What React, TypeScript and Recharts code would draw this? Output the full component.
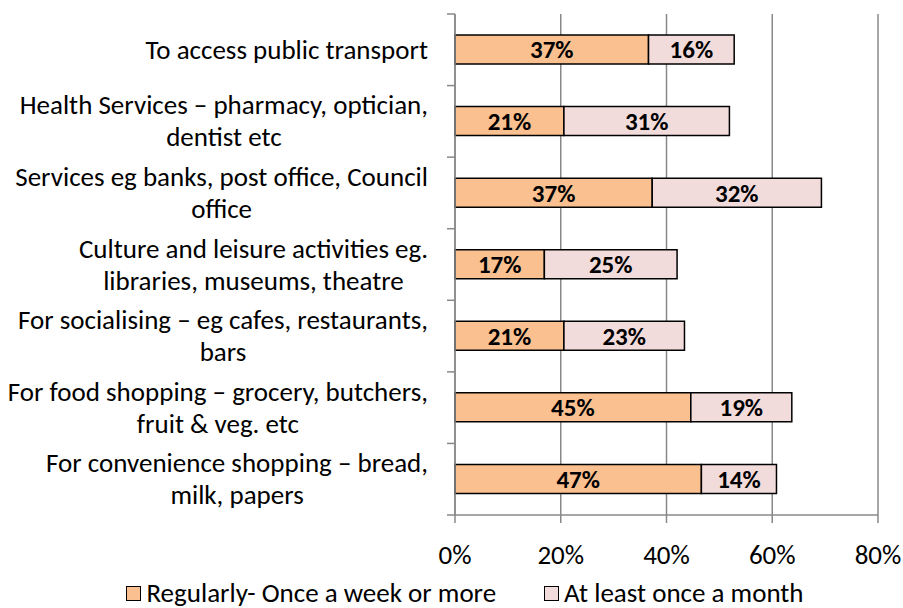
import React from "react";
import { BarChart, Bar, XAxis, YAxis, CartesianGrid, LabelList, Legend } from "recharts";

const categories = [
  ["To access public transport"],
  ["Health Services – pharmacy, optician,", "dentist etc"],
  ["Services eg banks, post office, Council", "office"],
  ["Culture and leisure activities eg.", "libraries, museums, theatre"],
  ["For socialising – eg cafes, restaurants,", "bars"],
  ["For food shopping – grocery, butchers,", "fruit & veg. etc"],
  ["For convenience shopping – bread,", "milk, papers"],
];
const regularly = [36.6, 20.6, 37.3, 16.9, 20.6, 44.6, 46.6];
const monthly = [16.2, 31.3, 32.0, 25.1, 22.8, 19.1, 14.2];
const xTicks = [0, 20, 40, 60, 80];
const seriesNames = ["Regularly- Once a week or more", "At least once a month"];
const colors = ["#FAC090", "#F2DCDB"];

const data = categories.map((c, i) => ({
  name: c.join(" "),
  lines: c,
  regularly: regularly[i],
  monthly: monthly[i],
}));

const FONT = "Carlito, Lato, 'Open Sans', sans-serif";
const FS = 27;
const PLOT_H = 501;

const YTick = (props: any) => {
  const { x, y, payload, index } = props;
  const half = payload && payload.offset ? payload.offset : PLOT_H / 14;
  const lines: string[] = data[index] ? data[index].lines : [String(payload.value)];
  const axisX = x + 8;
  return (
    <g>
      <line x1={axisX - 8} x2={axisX} y1={y - half} y2={y - half} stroke="#888" strokeWidth={1.5} />
      {index === data.length - 1 && (
        <line x1={axisX - 8} x2={axisX} y1={y + half} y2={y + half} stroke="#888" strokeWidth={1.5} />
      )}
      <foreignObject x={0} y={y - 40} width={axisX - 27} height={80}>
        <div
          style={{
            width: "100%",
            height: "100%",
            display: "flex",
            justifyContent: "flex-end",
            alignItems: "center",
          }}
        >
          <div
            style={{
              textAlign: "center",
              fontFamily: FONT,
              fontSize: FS,
              lineHeight: "32px",
              color: "#000",
              whiteSpace: "nowrap",
            }}
          >
            {lines.map((l, i) => (
              <div key={i}>{l}</div>
            ))}
          </div>
        </div>
      </foreignObject>
    </g>
  );
};

const LegendContent = () => (
  <div
    style={{
      display: "flex",
      justifyContent: "center",
      alignItems: "center",
      gap: 48,
      fontFamily: FONT,
      fontSize: FS,
      lineHeight: "28px",
      color: "#000",
      height: 30,
      paddingLeft: 52,
    }}
  >
    {seriesNames.map((n, i) => (
      <div key={n} style={{ display: "flex", alignItems: "center" }}>
        <span
          style={{
            display: "inline-block",
            width: 13,
            height: 13,
            background: colors[i],
            border: "1px solid #000",
            marginRight: 5,
          }}
        />
        <span>{n}</span>
      </div>
    ))}
  </div>
);

const fmt = (v: any) => `${Math.round(Number(v))}%`;

export default function App() {
  return (
    <div style={{ position: "absolute", left: 0, top: 0, width: 903, height: 608, background: "#fff" }}>
      <BarChart
        width={903}
        height={608}
        data={data}
        layout="vertical"
        margin={{ top: 14, right: 25, bottom: 0, left: 0 }}
        barSize={29}
      >
        <CartesianGrid horizontal={false} stroke="#888" strokeWidth={1.5} />
        <XAxis
          type="number"
          domain={[0, 80]}
          ticks={xTicks}
          tickFormatter={(v) => `${v}%`}
          stroke="#888"
          strokeWidth={1.5}
          tickSize={8}
          tickMargin={22}
          height={63}
          tick={{ fill: "#000", fontSize: FS, fontFamily: FONT }}
          interval={0}
        />
        <YAxis
          type="category"
          dataKey="name"
          width={455}
          stroke="#888"
          strokeWidth={1.5}
          tickLine={false}
          tick={<YTick />}
          interval={0}
        />
        <Legend verticalAlign="bottom" height={30} content={<LegendContent />} />
        <Bar dataKey="regularly" stackId="a" fill={colors[0]} stroke="#000" strokeWidth={1.5} isAnimationActive={false}>
          <LabelList dataKey="regularly" position="center" formatter={fmt} fill="#000" fontWeight="bold" fontSize={25} fontFamily={FONT} />
        </Bar>
        <Bar dataKey="monthly" stackId="a" fill={colors[1]} stroke="#000" strokeWidth={1.5} isAnimationActive={false}>
          <LabelList dataKey="monthly" position="center" formatter={fmt} fill="#000" fontWeight="bold" fontSize={25} fontFamily={FONT} />
        </Bar>
      </BarChart>
    </div>
  );
}
